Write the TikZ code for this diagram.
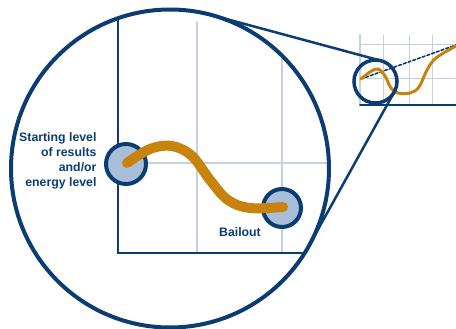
\documentclass[tikz,border=0pt]{standalone}
\usepackage{fontspec}
\setmainfont{Liberation Sans}
\usepackage{tikz}
\usetikzlibrary{calc}
\definecolor{navy}{HTML}{0B3D72}
\definecolor{gridc}{HTML}{C7D0E2}
\definecolor{ochre}{HTML}{C8830F}
\definecolor{dotfill}{HTML}{A9BED9}

\begin{document}
\begin{tikzpicture}[x=1pt,y=-1pt,line cap=round,
  ring/.style={draw=navy,circle,inner sep=0,outer sep=0},
  dot/.style={ring,line width=4,fill=dotfill,minimum size=40},
  lbl/.style={text=navy,font=\bfseries\fontsize{12.3}{15}\selectfont}]
  \useasboundingbox (0,0) rectangle (456,329);
  % small chart
  \draw[gridc,line width=1] (383,35)--(383,105) (409,35)--(409,105) (432,35)--(432,105);
  \draw[gridc,line width=1] (360,45)--(456,45) (360,79)--(456,79);
  \draw[gridc,line width=1.8] (360,35)--(360,105);
  \draw[navy,line width=1.8] (360,105)--(456,105);
  \draw[navy,line width=1.6,dashed,dash pattern=on 3 off 2] (361,79)--(456,45);
  \draw[ochre,line width=3] plot[smooth,tension=0.6] coordinates {(361,79) (370,72) (378,69) (385,76) (391,88) (398,93) (410,93) (419,87) (427,70) (436,58) (456,46)};
  % big chart, clipped to the lens
  \begin{scope}
    \clip (170,168.5) circle (157);
    \draw[gridc,line width=1.2] (197,22)--(197,253) (282,22)--(282,253) (118,163)--(340,163);
    \draw[navy,line width=2.6] (118,0)--(118,253)--(340,253);
  \end{scope}
  \node[ring,line width=4,minimum size=318] (zoomc) at (170,168.5) {};
  \node[ring,line width=3.5,minimum size=43] (lensc) at (375.5,81.5) {};
  \coordinate (hc) at ($(zoomc.center)!1.1564!(lensc.center)$);
  \draw[navy,line width=2.5]
    (tangent cs:node=zoomc,point={(hc)},solution=1) -- (tangent cs:node=lensc,point={(hc)},solution=1)
    (tangent cs:node=zoomc,point={(hc)},solution=2) -- (tangent cs:node=lensc,point={(hc)},solution=2);
  \node[dot] (start) at (126,164) {};
  \node[dot,minimum size=38] (bail) at (282,208) {};
  \draw[ochre,line width=10] plot[smooth,tension=0.6] coordinates {(127,163) (150,149) (172,146) (192,156) (210,180) (228,200) (250,208) (283,207)};
  \node[lbl,align=right,anchor=east] (startlbl) at (100,160.5) {Starting level\\of results\\and/or\\energy level};
  \node[lbl] (baillbl) at (240,232) {Bailout};
\end{tikzpicture}
\end{document}
